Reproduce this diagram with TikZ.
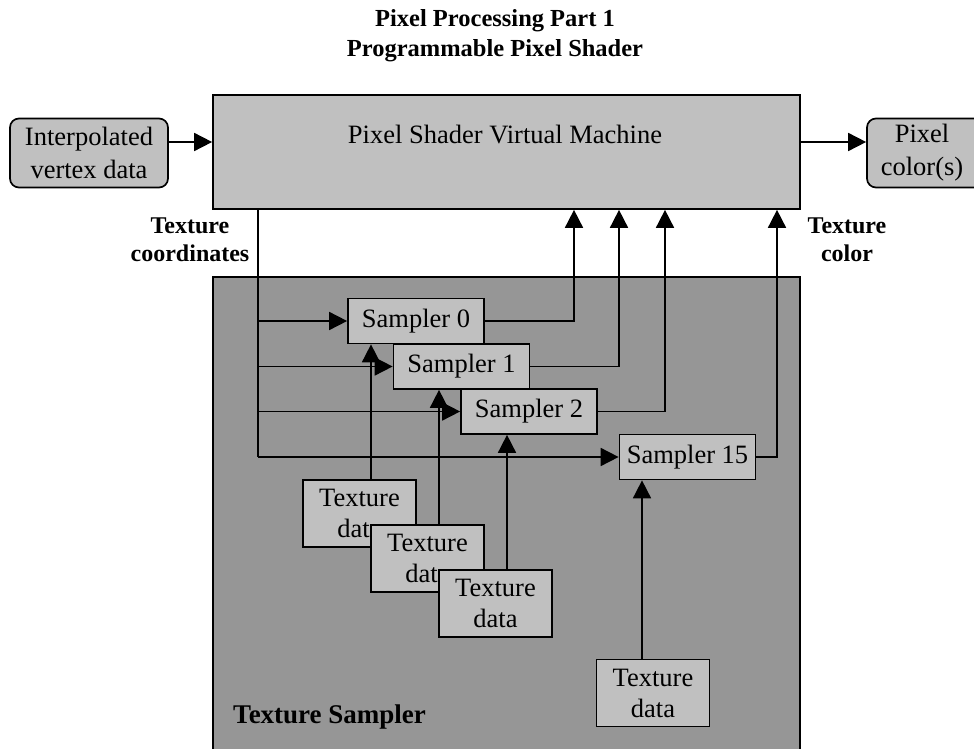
\documentclass[tikz,border=0pt]{standalone}
\usepackage{fontspec}
\setmainfont{Liberation Serif}
\usetikzlibrary{arrows.meta}
\definecolor{lightbox}{HTML}{C0C0C0}
\definecolor{darkpanel}{HTML}{969696}

\begin{document}
\begin{tikzpicture}[x=1pt,y=-1pt,
  wire/.style={line width=1.7pt,draw=black},
  arr/.style={wire,-{Triangle[length=18pt,width=18pt]}},
  box/.style={draw=black,line width=1.7pt,fill=lightbox,inner sep=0pt,align=center,
    font=\fontsize{26.5}{31}\selectfont},
  roundbox/.style={box,rounded corners=9pt,minimum width=158pt,minimum height=69pt,
    font=\fontsize{26.5}{33}\selectfont},
  sampler/.style={box,minimum width=136pt,minimum height=45pt},
  texdata/.style={box,minimum width=113pt,minimum height=67pt},
  panel/.style={draw=black,line width=1.7pt,fill=darkpanel,inner sep=0pt},
  boldlabel/.style={inner sep=0pt,align=center,font=\bfseries\fontsize{24}{28}\selectfont},
]
\useasboundingbox (0,0) rectangle (974,749);

% title
\node[boldlabel,font=\bfseries\fontsize{24.5}{30}\selectfont] (title) at (495,36)
  {Pixel Processing Part 1\\Programmable Pixel Shader};

% texture sampler panel (runs off the bottom edge)
\node[panel,minimum width=587pt,minimum height=483pt] (ts) at (506.5,518.5) {};
\node[anchor=base west,inner sep=0pt,font=\bfseries\fontsize{27}{32}\selectfont]
  (tslabel) at (233,723) {Texture Sampler};

% pixel shader virtual machine
\node[box,minimum width=587pt,minimum height=114pt] (psvm) at (506.5,152) {};
\node[anchor=base,inner sep=0pt,font=\fontsize{26.5}{31}\selectfont] (psvmlabel)
  at (505,143) {Pixel Shader Virtual Machine};

% inputs and outputs of the machine (the output box runs off the right edge)
\node[roundbox] (interp) at (89,153) {Interpolated\\vertex data};
\node[roundbox,minimum width=130pt] (pixout) at (932,153)
  {Pixel\hspace*{20pt}\\color(s)\hspace*{20pt}};
\coordinate (ioy) at (0,142);
\draw[arr] (interp.east |- ioy) -- (psvm.west |- ioy);
\draw[arr] (psvm.east |- ioy) -- (pixout.west |- ioy);

% side labels
\node[boldlabel] (tclabel) at (190,240) {Texture\\coordinates};
\node[boldlabel] (tcolabel) at (847,240) {Texture\\color};

% samplers
\node[sampler] (s0) at (416,321) {Sampler 0};
\node[sampler] (s1) at (461.5,366.5) {Sampler 1};
\node[sampler] (s2) at (529,411.5) {Sampler 2};
\node[sampler] (s15) at (687.5,457) {Sampler 15};

% texture coordinate bus
\coordinate (bus) at (258,457);
\draw[wire] (psvm.south -| bus) -- (bus);
\draw[arr] (bus) -- (s15.west);
\draw[arr] (bus |- s0.west) -- (s0.west);
\draw[arr] (bus |- s1.west) -- (s1.west);
\draw[arr] (bus |- s2.west) -- (s2.west);

% texture colour returns
\coordinate (r0) at (574,0);
\coordinate (r1) at (619,0);
\coordinate (r2) at (665,0);
\coordinate (r15) at (777,0);
\draw[arr] (s0.east) -| (psvm.south -| r0);
\draw[arr] (s1.east) -| (psvm.south -| r1);
\draw[arr] (s2.east) -| (psvm.south -| r2);
\draw[arr] (s15.east) -| (psvm.south -| r15);

% texture data
\node[texdata] (t1) at (359.5,513.5) {Texture\\data};
\node[texdata] (t2) at (427.5,558.5) {Texture\\data};
\node[texdata] (t3) at (495.5,603.5) {Texture\\data};
\node[texdata] (t4) at (653,693) {Texture\\data};

\coordinate (d0) at (371,0);
\coordinate (d1) at (439,0);
\coordinate (d2) at (507,0);
\coordinate (d15) at (642,0);
\draw[arr] (t1.north -| d0) -- (s0.south -| d0);
\draw[arr] (t2.north -| d1) -- (s1.south -| d1);
\draw[arr] (t3.north -| d2) -- (s2.south -| d2);
\draw[arr] (t4.north -| d15) -- (s15.south -| d15);
\end{tikzpicture}
\end{document}
